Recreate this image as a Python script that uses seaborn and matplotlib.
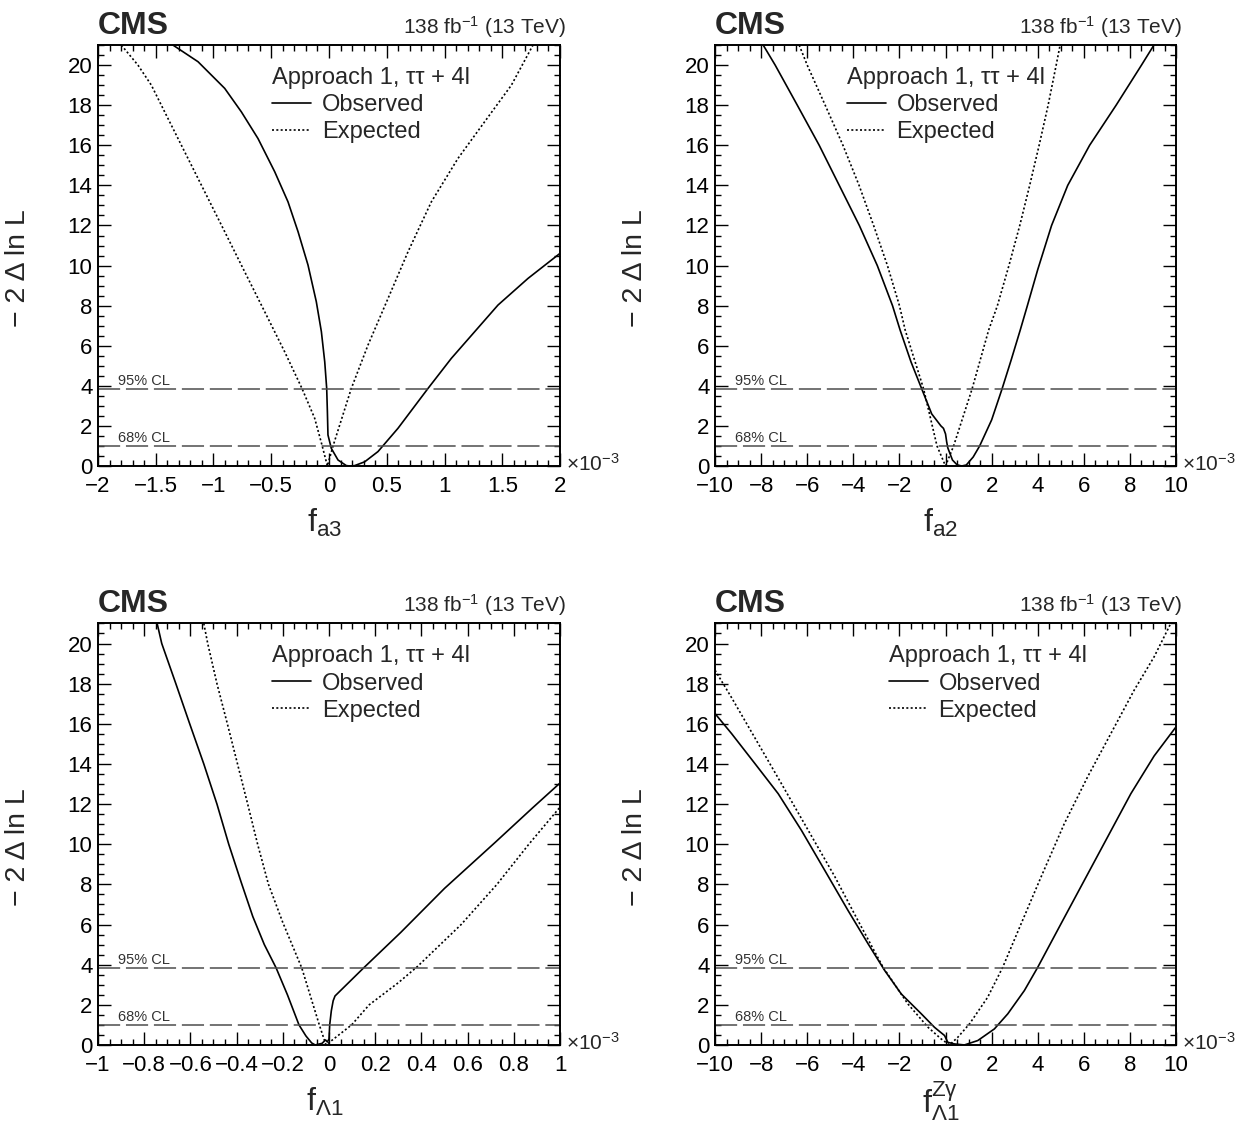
import pandas as pd
import matplotlib
matplotlib.use("Agg")
import matplotlib.pyplot as plt
import matplotlib.transforms as mtransforms
from matplotlib.ticker import MultipleLocator
import seaborn as sns

# f_a3 (x in units of 1e-3)
fa3_obs_x = [-1.351, -1.134, -0.903, -0.759, -0.615, -0.470, -0.355, -0.268, -0.182, -0.110, -0.066,
             -0.037, -0.020, -0.014, -0.009, 0.020, 0.078, 0.150, 0.185, 0.222, 0.309, 0.424, 0.597,
             0.857, 1.059, 1.261, 1.463, 1.723, 2.0]
fa3_obs_y = [21, 20.17, 18.84, 17.67, 16.34, 14.68, 13.18, 11.69, 10.03, 8.20, 6.70,
             5.20, 3.87, 2.71, 1.55, 0.88, 0.30, 0.02, 0.0, 0.02, 0.21, 0.72, 1.88,
             3.87, 5.37, 6.70, 8.03, 9.36, 10.61]
fa3_exp_x = [-1.798, -1.654, -1.538, -1.423, -1.250, -1.076, -0.903, -0.730, -0.557, -0.384, -0.234,
             -0.124, -0.061, -0.014, 0.035, 0.193, 0.338, 0.511, 0.684, 0.886, 1.117, 1.348, 1.579,
             1.766]
fa3_exp_y = [21, 20, 19.0, 17.67, 15.68, 13.68, 11.69, 9.69, 7.70, 5.70, 3.87,
             2.38, 1.05, 0.0, 1.0, 3.87, 6.04, 8.36, 10.69, 13.18, 15.35, 17.18, 19.0,
             21]

# f_a2
fa2_obs_x = [-7.91, -7.39, -6.43, -5.48, -4.61, -3.74, -2.96, -2.3, -1.97, -1.5, -1.03, -0.6, -0.2,
             -0.09, 0.0, 0.05, 0.1, 0.3, 0.5, 0.7, 0.9, 1.2, 1.48, 2.0, 2.45, 2.85, 3.24, 3.55, 4.0,
             4.6, 5.3, 6.25, 7.4, 8.5, 9.04]
fa2_obs_y = [21, 20, 18, 16, 14, 12, 10, 8, 6.78, 5.2, 3.84, 2.6, 2.0,
             1.88, 1.6, 1.2, 0.9, 0.3, 0.06, 0.0, 0.05, 0.45, 1.0, 2.3, 3.84, 5.3, 6.78, 8, 9.8,
             12, 14, 16, 18, 20, 21]
fa2_exp_x = [-6.35, -6.0, -5.22, -4.45, -3.75, -3.12, -2.52, -2.0, -1.75, -0.95, -0.37, 0.0,
             0.35, 1.15, 1.87, 2.25, 2.75, 3.22, 3.65, 4.06, 4.45, 4.8, 4.97]
fa2_exp_y = [21, 20, 18, 16, 14, 12, 10, 8, 6.78, 3.84, 1.0, 0.0,
             1.0, 3.84, 6.78, 8, 10, 12, 14, 16, 18, 20, 21]

# f_Lambda1
fl1_obs_x = [-0.744, -0.724, -0.663, -0.603, -0.542, -0.485, -0.434, -0.38, -0.33, -0.28, -0.229,
             -0.18, -0.13, -0.10, -0.075, -0.06, -0.03, -0.015, -0.007, 0.0, 0.003, 0.01, 0.018,
             0.026, 0.15, 0.31, 0.5, 0.72, 0.88, 1.0]
fl1_obs_y = [21, 20, 18, 16, 14, 12, 10, 8.1, 6.4, 5.0, 3.84,
             2.5, 1.0, 0.45, 0.1, 0.0, 0.08, 0.25, 0.15, 0.3, 1.0, 1.7, 2.2,
             2.44, 3.84, 5.6, 7.8, 10.1, 11.8, 13.05]
fl1_exp_x = [-0.542, -0.525, -0.485, -0.44, -0.396, -0.352, -0.309, -0.262, -0.2, -0.118, -0.042,
             -0.013, 0.098, 0.174, 0.30, 0.382, 0.572, 0.727, 0.865, 1.0]
fl1_exp_y = [21, 20, 18, 16, 14, 12, 10, 8, 6.1, 3.84, 1.0,
             0.0, 1.0, 2.0, 3.1, 3.9, 6.0, 8.0, 10.0, 11.85]

# f_Lambda1^Zgamma
fzg_obs_x = [-10, -9.28, -8.27, -7.26, -6.25, -5.24, -4.23, -3.36, -2.64, -1.92, -1.05, -0.48, -0.043,
             0.10, 0.39, 0.82, 1.40, 2.12, 2.70, 3.42, 4.0, 5.01, 6.02, 7.03, 8.04, 9.05, 10.0]
fzg_obs_y = [16.51, 15.51, 14.02, 12.52, 10.69, 8.70, 6.70, 5.04, 3.71, 2.54, 1.55, 0.88, 0.47,
             0.13, 0.05, 0.0, 0.22, 0.80, 1.55, 2.71, 3.87, 6.04, 8.20, 10.36, 12.52, 14.4, 15.85]
fzg_exp_x = [-10, -9.28, -8.27, -7.11, -5.96, -4.81, -3.80, -2.71, -1.63, -0.76, -0.19, 0.17,
             0.53, 1.04, 1.83, 2.48, 3.28, 4.14, 5.15, 6.16, 7.17, 8.18, 9.05, 9.77]
fzg_exp_y = [18.67, 17.3, 15.3, 13.0, 10.7, 8.4, 6.2, 3.87, 2.04, 0.88, 0.30, 0.0,
             0.38, 1.05, 2.38, 3.87, 6.04, 8.36, 11.02, 13.35, 15.51, 17.67, 19.34, 21]

cl_levels = [3.84, 1.0]
cl_labels = ["95% CL", "68% CL"]
cl_text_y = [4.04, 1.21]

sns.set_theme(style="ticks")
plt.rcParams['font.family'] = ['Liberation Sans', 'DejaVu Sans']
plt.rcParams['mathtext.fontset'] = 'custom'
plt.rcParams['mathtext.rm'] = 'Liberation Sans'
plt.rcParams['mathtext.it'] = 'Liberation Sans:italic'
plt.rcParams['mathtext.bf'] = 'Liberation Sans:bold'

panels = [
    dict(obs=(fa3_obs_x, fa3_obs_y), exp=(fa3_exp_x, fa3_exp_y), xlim=(-2, 2), major=0.5, minor=0.1,
         xlabel=r'$\mathrm{f}_{\mathrm{a3}}$', rect=[0.0789, 0.5865, 0.372, 0.3735], legx=0.377,
         laby=-0.097, fmt=lambda v: f"{v:g}"),
    dict(obs=(fa2_obs_x, fa2_obs_y), exp=(fa2_exp_x, fa2_exp_y), xlim=(-10, 10), major=2, minor=0.5,
         xlabel=r'$\mathrm{f}_{\mathrm{a2}}$', rect=[0.5757, 0.5865, 0.3712, 0.3735], legx=0.286,
         laby=-0.097, fmt=lambda v: f"{v:g}"),
    dict(obs=(fl1_obs_x, fl1_obs_y), exp=(fl1_exp_x, fl1_exp_y), xlim=(-1, 1), major=0.2, minor=0.05,
         xlabel=r'$\mathrm{f}_{\Lambda\mathrm{1}}$', rect=[0.0789, 0.0728, 0.372, 0.374], legx=0.377,
         laby=-0.097, fmt=lambda v: f"{round(v, 1):g}"),
    dict(obs=(fzg_obs_x, fzg_obs_y), exp=(fzg_exp_x, fzg_exp_y), xlim=(-10, 10), major=2, minor=0.5,
         xlabel=r'$\mathrm{f}_{\Lambda\mathrm{1}}^{\mathrm{Z\gamma}}$', rect=[0.5757, 0.0728, 0.3712, 0.374],
         legx=0.377, laby=-0.082, fmt=lambda v: f"{v:g}"),
]

fig = plt.figure(figsize=(12.42, 11.27), dpi=100)

for p in panels:
    ax = fig.add_axes(p['rect'])
    obs = pd.DataFrame({'x': p['obs'][0], 'y': p['obs'][1]})
    exp = pd.DataFrame({'x': p['exp'][0], 'y': p['exp'][1]})
    sns.lineplot(data=obs, x='x', y='y', ax=ax, sort=False, estimator=None,
                 color='black', lw=1.2, label='Observed')
    sns.lineplot(data=exp, x='x', y='y', ax=ax, sort=False, estimator=None,
                 color='black', lw=1.2, label='Expected')
    ax.lines[-1].set_dashes((1.2, 1.4))

    for lev, lab, ty in zip(cl_levels, cl_labels, cl_text_y):
        ax.axhline(lev, color='0.3', lw=1.1, dashes=(14.5, 3.8))
        trans = mtransforms.blended_transform_factory(ax.transAxes, ax.transData)
        ax.text(0.044, ty, lab, transform=trans, fontsize=10.5, va='baseline', ha='left', color='0.2')

    ax.set_xlim(*p['xlim'])
    ax.set_ylim(0, 21)
    ax.xaxis.set_major_locator(MultipleLocator(p['major']))
    ax.xaxis.set_minor_locator(MultipleLocator(p['minor']))
    ax.yaxis.set_major_locator(MultipleLocator(2))
    ax.yaxis.set_minor_locator(MultipleLocator(0.5))
    ticks = [t for t in ax.get_xticks() if p['xlim'][0] - 1e-9 <= t <= p['xlim'][1] + 1e-9]
    ax.set_xticks(ticks)
    ax.set_xticklabels([p['fmt'](t).replace('-', '\u2212') for t in ticks])
    ax.tick_params(which='both', direction='in', top=True, right=True, colors='black',
                   labelsize=16, width=1.0)
    ax.tick_params(which='major', length=9.5)
    ax.tick_params(which='minor', length=4.5)
    ax.tick_params(axis='x', pad=7.5)
    ax.tick_params(axis='y', pad=4)
    for s in ax.spines.values():
        s.set_linewidth(1.4)
        s.set_color('black')

    ax.set_ylabel('\u2212 2 \u0394 ln L', fontsize=20.5)
    ax.yaxis.set_label_coords(-0.145, 0.47)
    ax.set_xlabel(p['xlabel'], fontsize=23)
    ax.xaxis.set_label_coords(0.49, p['laby'])

    ax.text(0.0, 1.027, 'CMS', transform=ax.transAxes, fontsize=23, fontweight='bold',
            ha='left', va='baseline')
    ax.text(1.013, 1.027, r'138 fb$^{-1}$ (13 TeV)', transform=ax.transAxes, fontsize=15,
            ha='right', va='baseline')
    ax.text(1.012, -0.02, r'$\times$10$^{-3}$', transform=ax.transAxes, fontsize=15,
            ha='left', va='bottom')

    ax.legend(title='Approach 1, \u03c4\u03c4 + 4l', loc='upper left',
              bbox_to_anchor=(p['legx'], 0.948), frameon=False, fontsize=17,
              title_fontsize=17, alignment='left', borderpad=0, borderaxespad=0,
              labelspacing=0.22, handlelength=1.65, handletextpad=0.45)

fig.savefig('out.png', dpi=100)
